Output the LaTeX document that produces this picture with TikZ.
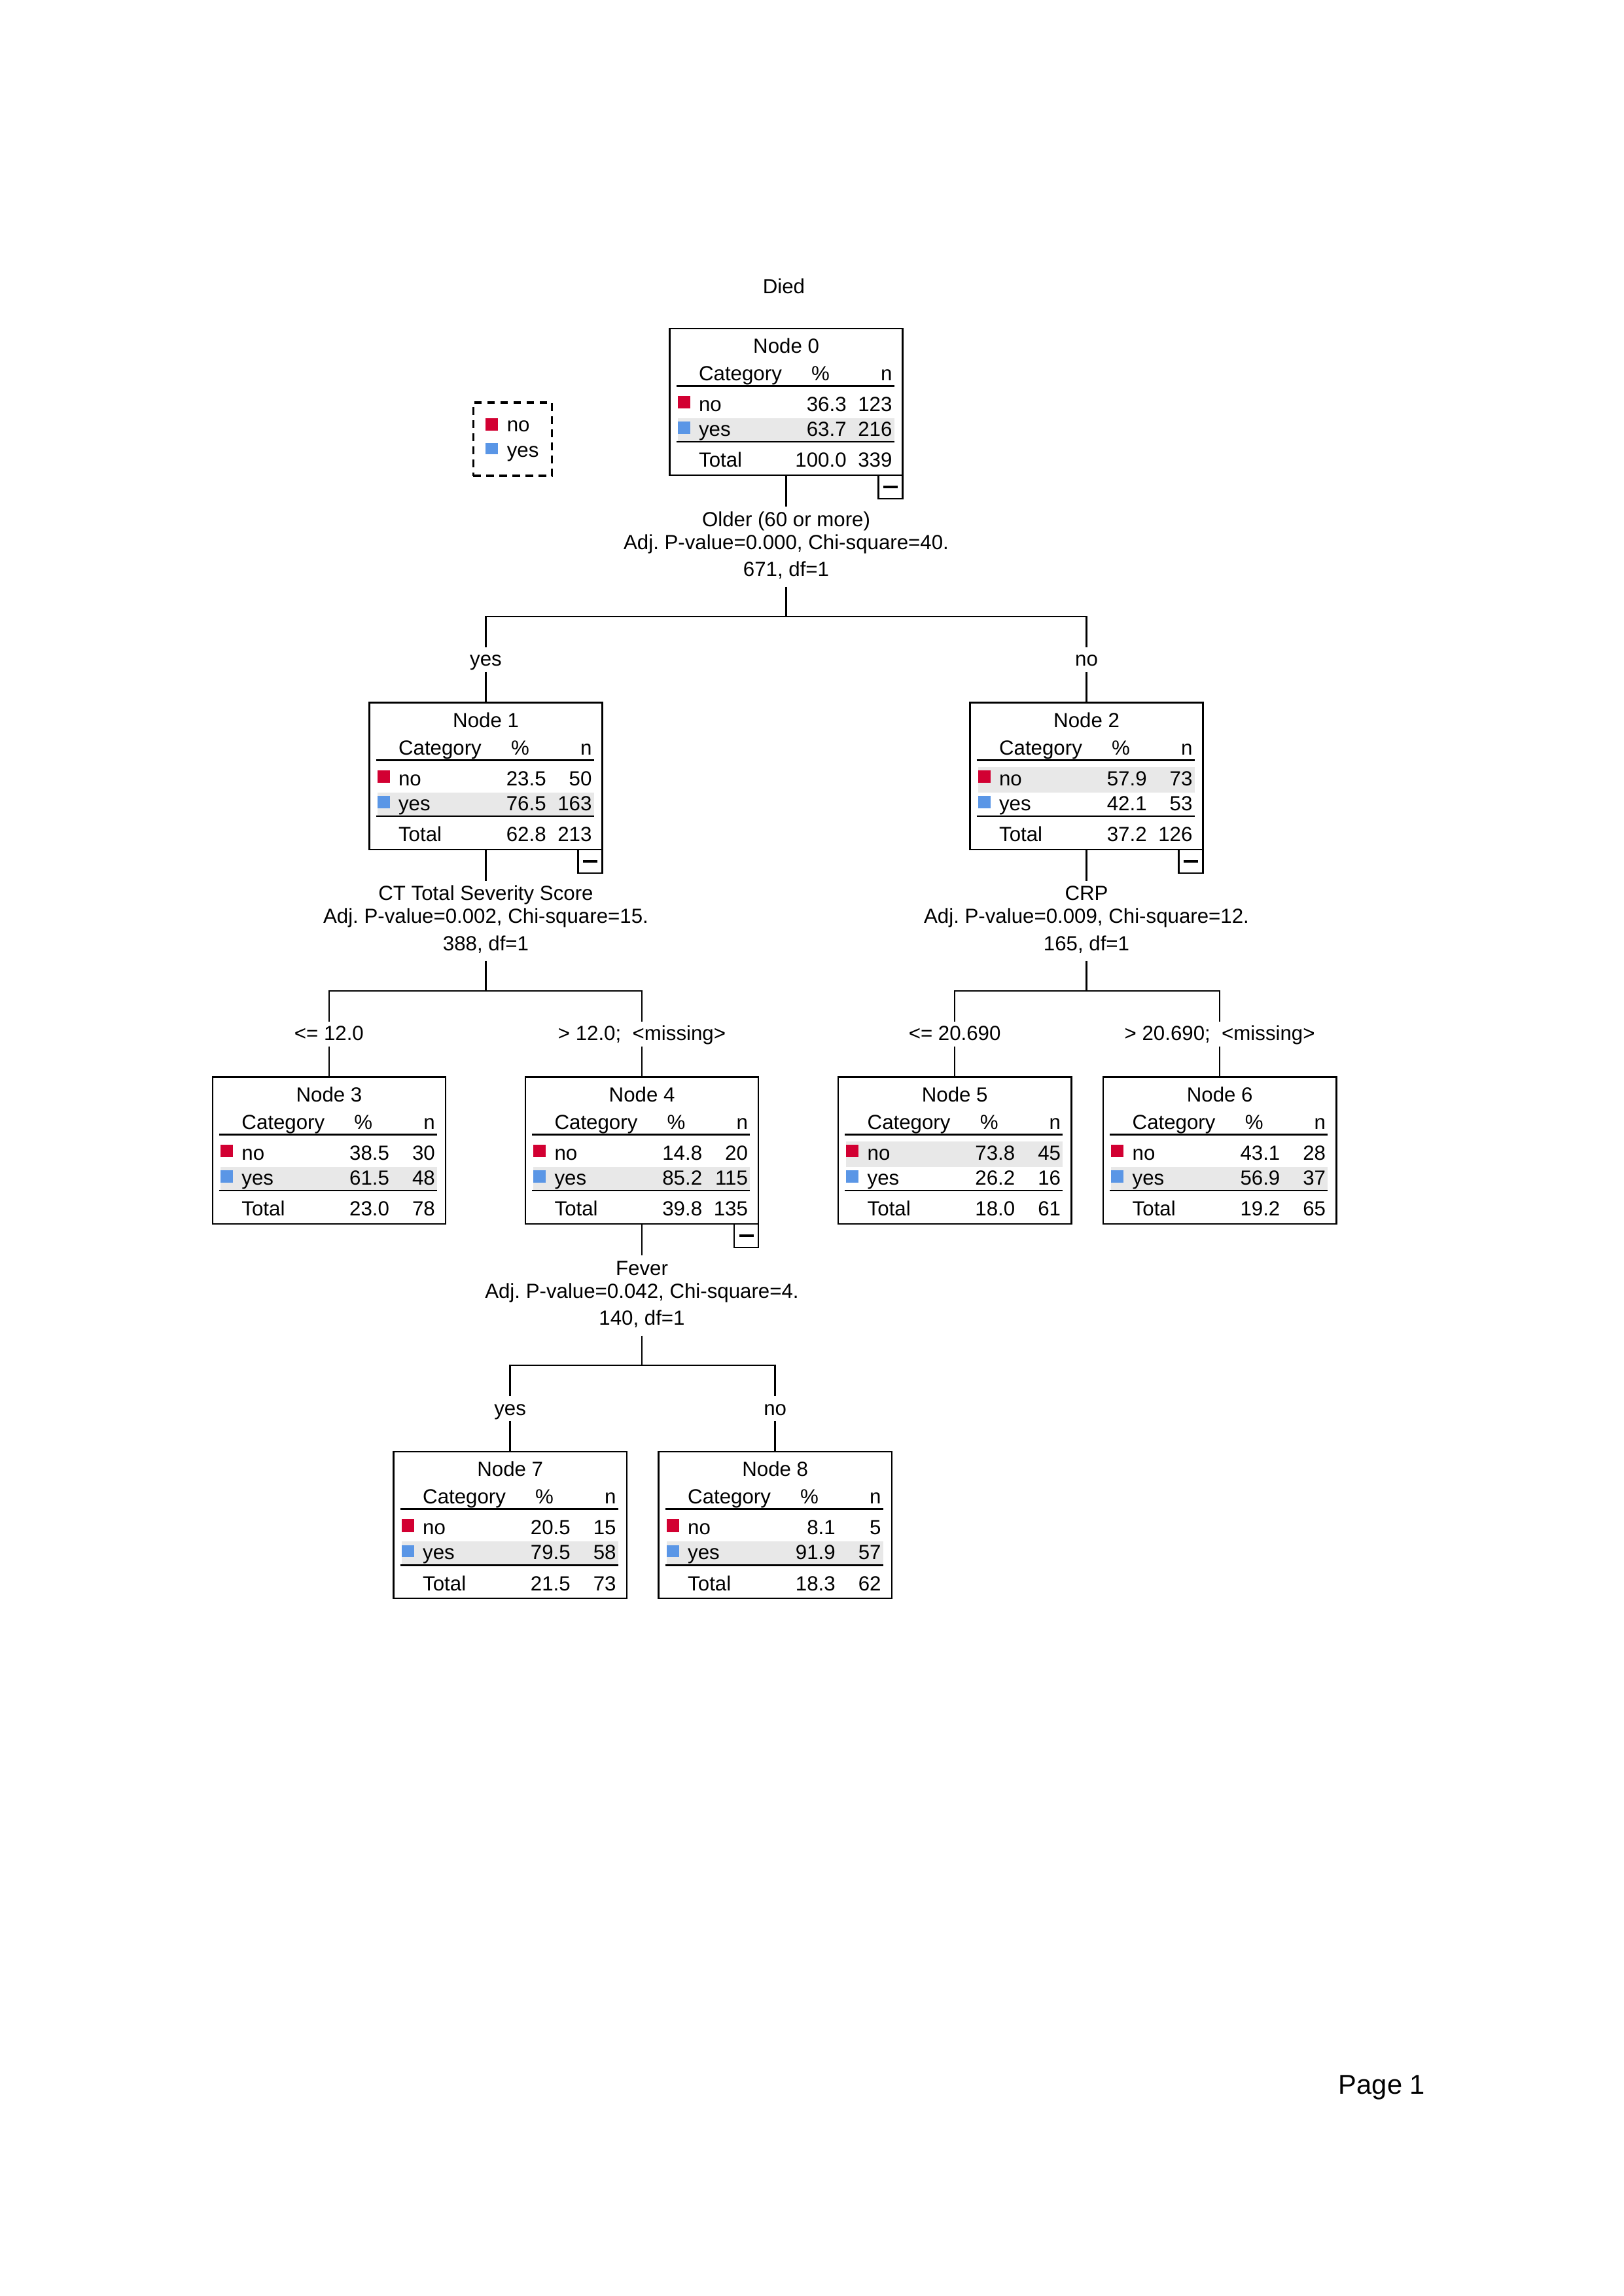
\documentclass[tikz,border=0pt]{standalone}
\usepackage{fontspec}
\setmainfont{Liberation Sans}
\frenchspacing
\definecolor{catno}{RGB}{210,0,50}
\definecolor{catyes}{RGB}{90,150,230}
\definecolor{rowgray}{RGB}{232,232,232}
\tikzset{
	treebox/.style={draw, line width=0.6pt, minimum width=85.5pt, minimum height=53.8pt, inner sep=0pt, outer sep=0pt, anchor=north},
	minusbox/.style={draw, line width=0.6pt, minimum width=8.9pt, minimum height=8.7pt, inner sep=0pt, outer sep=0pt, anchor=north east},
	cell/.style={inner sep=0pt, anchor=base},
	splitlabel/.style={align=center, inner sep=0pt, anchor=north},
	branchlabel/.style={inner sep=0pt, anchor=base, text height=6.7pt, text depth=1.9pt},
	link/.style={line width=0.6pt},
}
\def\topstrut{\rule{0pt}{7pt}}
\def\botstrut{\rule[-3.6pt]{0pt}{3.6pt}}
\def\nodetable#1#2#3#4#5#6#7#8#9{
	\begin{scope}[shift={(#1.north west)}]
		\fill[rowgray] (5.5,{43.5+17.5*#9}) rectangle (152.5,{61+16*#9});
		\node[cell] (#1t) at (79.2,16.7) {#2};
		\node[cell, anchor=base west] (#1c) at (19.5,35.5) {Category};
		\node[cell] (#1p) at (102.5,35.5) {\%};
		\node[cell, anchor=base east] (#1n) at (151.5,35.5) {n};
		\draw[link] (4.5,39) -- (152.5,39);
		\fill[catno] (5.5,46) rectangle (13.9,54.5);
		\node[cell, anchor=base west] (#1a) at (19.5,56.3) {no};
		\node[cell, anchor=base east] (#1ap) at (120.5,56.3) {#3};
		\node[cell, anchor=base east] (#1an) at (151.5,56.3) {#4};
		\fill[catyes] (5.5,63.4) rectangle (13.9,71.8);
		\node[cell, anchor=base west] (#1b) at (19.5,73.3) {yes};
		\node[cell, anchor=base east] (#1bp) at (120.5,73.3) {#5};
		\node[cell, anchor=base east] (#1bn) at (151.5,73.3) {#6};
		\draw[link] (4.5,77.1) -- (152.5,77.1);
		\node[cell, anchor=base west] (#1s) at (19.5,94.3) {Total};
		\node[cell, anchor=base east] (#1sp) at (120.5,94.3) {#7};
		\node[cell, anchor=base east] (#1sn) at (151.5,94.3) {#8};
	\end{scope}
}

\begin{document}
\begin{tikzpicture}[x=0.54pt, y=-0.54pt, font=\fontsize{7.5}{8.4}\selectfont]
			\useasboundingbox (0,0) rectangle (1102.7,1559.1);
			%%%%% START %%%%%
			
			\node[cell] (died) at (532.4,199.3) {Died};
			
			\node[draw, dash pattern=on 2.8pt off 2pt, line width=0.8pt, minimum width=28.9pt, minimum height=26.9pt, inner sep=0pt, anchor=north west] (legend) at (320.7,272.6) {};
			\fill[catno] (329.9,284.1) rectangle (338.2,292.3);
			\node[cell, anchor=base west] (legno) at (344,293.3) {no};
			\fill[catyes] (329.9,301) rectangle (338.2,308.6);
			\node[cell, anchor=base west] (legyes) at (344,310.4) {yes};
			
			\node[treebox] (N0) at (534,223) {};
			\nodetable{N0}{Node 0}{36.3}{123}{63.7}{216}{100.0}{339}{1}
			\node[minusbox] (N0m) at (N0.south east) {\rule{5.3pt}{1pt}};
			\node[splitlabel] (S0) at (534,344) {\topstrut Older (60 or more)\\Adj. P-value=0.000, Chi-square=40.\\[1.6pt]671, df=1\botstrut};
			\coordinate (J0) at (534,418.7);
			\node[branchlabel] (L1) at (330,452.4) {yes};
			\node[branchlabel] (L2) at (738,452.4) {no};
			
			\node[treebox] (N1) at (330,477.2) {};
			\nodetable{N1}{Node 1}{23.5}{50}{76.5}{163}{62.8}{213}{1}
			\node[minusbox] (N1m) at (N1.south east) {\rule{5.3pt}{1pt}};
			\node[treebox] (N2) at (738,477.2) {};
			\nodetable{N2}{Node 2}{57.9}{73}{42.1}{53}{37.2}{126}{0}
			\node[minusbox] (N2m) at (N2.south east) {\rule{5.3pt}{1pt}};
			
			\node[splitlabel] (S1) at (330,598.2) {\topstrut CT Total Severity Score\\Adj. P-value=0.002, Chi-square=15.\\[1.6pt]388, df=1\botstrut};
			\coordinate (J1) at (330,672.9);
			\node[branchlabel] (L3) at (223.5,706.6) {<= 12.0};
			\node[branchlabel] (L4) at (436,706.6) {> 12.0;\ \ <missing>};
			\node[splitlabel] (S2) at (738,598.2) {\topstrut CRP\\Adj. P-value=0.009, Chi-square=12.\\[1.6pt]165, df=1\botstrut};
			\coordinate (J2) at (738,672.9);
			\node[branchlabel] (L5) at (648.5,706.6) {<= 20.690};
			\node[branchlabel] (L6) at (828.5,706.6) {> 20.690;\ \ <missing>};
			
			\node[treebox] (N3) at (223.5,731.4) {};
			\nodetable{N3}{Node 3}{38.5}{30}{61.5}{48}{23.0}{78}{1}
			\node[treebox] (N4) at (436,731.4) {};
			\nodetable{N4}{Node 4}{14.8}{20}{85.2}{115}{39.8}{135}{1}
			\node[minusbox] (N4m) at (N4.south east) {\rule{5.3pt}{1pt}};
			\node[treebox] (N5) at (648.5,731.4) {};
			\nodetable{N5}{Node 5}{73.8}{45}{26.2}{16}{18.0}{61}{0}
			\node[treebox] (N6) at (828.5,731.4) {};
			\nodetable{N6}{Node 6}{43.1}{28}{56.9}{37}{19.2}{65}{1}
			
			\node[splitlabel] (S4) at (436,852.5) {\topstrut Fever\\Adj. P-value=0.042, Chi-square=4.\\[1.6pt]140, df=1\botstrut};
			\coordinate (J4) at (436,927.2);
			\node[branchlabel] (L7) at (346.5,960.9) {yes};
			\node[branchlabel] (L8) at (526.5,960.9) {no};
			
			\node[treebox] (N7) at (346.5,985.7) {};
			\nodetable{N7}{Node 7}{20.5}{15}{79.5}{58}{21.5}{73}{1}
			\node[treebox] (N8) at (526.5,985.7) {};
			\nodetable{N8}{Node 8}{8.1}{5}{91.9}{57}{18.3}{62}{1}
			
			\draw[link] (N0.south) -- (S0.north);
			\draw[link] (S0.south) -- (J0);
			\draw[link] (J0) -| (L1.north);
			\draw[link] (J0) -| (L2.north);
			\draw[link] (L1.south) -- (N1.north);
			\draw[link] (L2.south) -- (N2.north);
			
			\draw[link] (N1.south) -- (S1.north);
			\draw[link] (S1.south) -- (J1);
			\draw[link] (J1) -| (L3.north);
			\draw[link] (J1) -| (L4.north);
			\draw[link] (L3.south) -- (N3.north);
			\draw[link] (L4.south) -- (N4.north);
			
			\draw[link] (N2.south) -- (S2.north);
			\draw[link] (S2.south) -- (J2);
			\draw[link] (J2) -| (L5.north);
			\draw[link] (J2) -| (L6.north);
			\draw[link] (L5.south) -- (N5.north);
			\draw[link] (L6.south) -- (N6.north);
			
			\draw[link] (N4.south) -- (S4.north);
			\draw[link] (S4.south) -- (J4);
			\draw[link] (J4) -| (L7.north);
			\draw[link] (J4) -| (L8.north);
			\draw[link] (L7.south) -- (N7.north);
			\draw[link] (L8.south) -- (N8.north);
			
			\node[cell, anchor=base west, font=\fontsize{10}{12}\selectfont] (page) at (908.9,1421.9) {Page 1};
			
			%%%%% END %%%%%
\end{tikzpicture}
\end{document}
